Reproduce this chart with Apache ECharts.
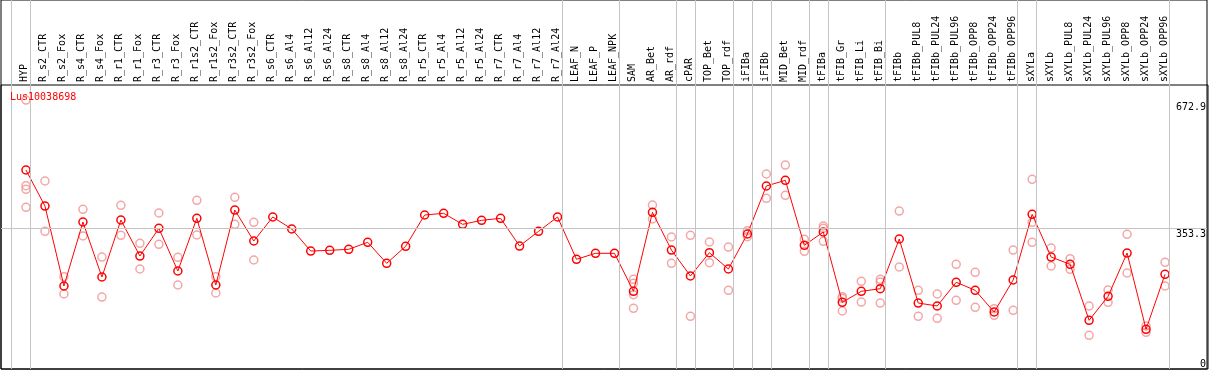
<!DOCTYPE html>
<html>
<head>
<meta charset="utf-8">
<script src="https://cdn.jsdelivr.net/npm/echarts@6/dist/echarts.min.js"></script>
<style>
html,body{margin:0;padding:0;background:#fff;}
#chart{width:1209px;height:370px;}
</style>
</head>
<body>
<div id="chart"></div>
<script>
const geneId = 'Lus10038698';

const categories = [
  'HYP','R_s2_CTR','R_s2_Fox','R_s4_CTR','R_s4_Fox','R_r1_CTR','R_r1_Fox','R_r3_CTR','R_r3_Fox',
  'R_r1s2_CTR','R_r1s2_Fox','R_r3s2_CTR','R_r3s2_Fox','R_s6_CTR','R_s6_Al4','R_s6_Al12','R_s6_Al24',
  'R_s8_CTR','R_s8_Al4','R_s8_Al12','R_s8_Al24','R_r5_CTR','R_r5_Al4','R_r5_Al12','R_r5_Al24',
  'R_r7_CTR','R_r7_Al4','R_r7_Al12','R_r7_Al24','LEAF_N','LEAF_P','LEAF_NPK','SAM','AR_Bet','AR_rdf',
  'cPAR','TOP_Bet','TOP_rdf','iFIBa','iFIBb','MID_Bet','MID_rdf','tFIBa','tFIB_Gr','tFIB_Li','tFIB_Bi',
  'tFIBb','tFIBb_PUL8','tFIBb_PUL24','tFIBb_PUL96','tFIBb_OPP8','tFIBb_OPP24','tFIBb_OPP96',
  'sXYLa','sXYLb','sXYLb_PUL8','sXYLb_PUL24','sXYLb_PUL96','sXYLb_OPP8','sXYLb_OPP24','sXYLb_OPP96'
];

const meanValues = [
  497.9, 407.8, 207.7, 367.8, 230.2, 372.8, 282.7, 352.0, 245.2,
  377.0, 210.2, 397.8, 320.3, 380.3, 350.3, 295.2, 296.9,
  299.5, 317.0, 264.5, 307.0, 385.3, 389.6, 362.0, 372.0,
  377.0, 307.7, 344.5, 380.3, 274.5, 289.5, 289.5, 194.4, 392.0, 297.7,
  232.7, 291.0, 250.2, 337.8, 457.9, 472.1, 309.5, 342.8, 166.9, 194.4, 200.9,
  325.3, 165.1, 157.6, 216.9, 196.9, 142.6, 222.7,
  387.0, 280.2, 262.0, 121.8, 181.9, 290.2, 99.3, 236.9
];

const replicateValues = [
  [672.9, 458.6, 449.6, 404.6],
  [470.4, 344.5],
  [231.0, 187.7],
  [399.6, 332.8],
  [280.2, 180.1],
  [409.6, 334.5],
  [314.5, 250.2],
  [390.3, 312.0],
  [279.5, 210.2],
  [422.0, 335.3],
  [231.0, 190.2],
  [429.6, 362.0],
  [367.0, 272.7],
  [], [], [], [], [], [], [], [], [], [], [], [], [], [], [], [], [], [], [],
  [224.4, 214.4, 186.0, 151.9],
  [410.3, 375.3],
  [330.3, 264.5],
  [334.5, 131.8],
  [317.8, 266.0],
  [305.2, 196.9],
  [346.0, 331.0],
  [487.9, 427.0],
  [510.4, 434.6],
  [324.5, 294.5],
  [357.8, 352.0, 319.5],
  [180.9, 176.9, 145.1],
  [219.4, 167.6],
  [224.4, 217.7, 165.1],
  [395.3, 255.2],
  [196.9, 131.8],
  [187.7, 126.8],
  [262.0, 171.9],
  [241.9, 154.4],
  [150.9, 134.4],
  [297.7, 146.9],
  [474.6, 367.0, 317.0],
  [302.7, 257.7],
  [276.0, 249.4],
  [157.6, 84.3],
  [197.7, 166.9],
  [337.0, 240.2],
  [107.6, 91.8],
  [267.0, 207.7]
];

// index of the last category in each group (-1 = before the first)
const groupEnds = [-1, 0, 28, 31, 34, 35, 37, 38, 39, 41, 42, 45, 52, 53, 60];
const referenceLine = 353.3;
const yTopLabels = [353.3, 672.9];
const yBottomLabels = [0];

const FONT = 'DejaVu Sans Mono';
const meanData = meanValues.map((v, i) => [i, v]);
const repData = [];
replicateValues.forEach((arr, i) => arr.forEach(v => repData.push([i, v])));

const chart = echarts.init(document.getElementById('chart'), null, {renderer: 'canvas'});
const yMax = 923.3;
const xMin = -25 / 19;
const xMax = xMin + 1207 / 19;

chart.setOption({
  animation: false,
  title: {
    text: geneId, left: 10, top: 92, padding: 0,
    textStyle: {color: '#ff0000', fontSize: 10, fontWeight: 'normal', fontFamily: FONT}
  },
  grid: [
    {left: 1, right: 1, top: 0, bottom: 1, show: true, borderColor: '#000', borderWidth: 1},
    {left: 1, right: 1, top: 85, bottom: 1, show: true, borderColor: '#000', borderWidth: 1},
    {left: 15, width: 1159, top: 85, bottom: 1}
  ],
  xAxis: [
    {type: 'value', gridIndex: 0, min: xMin, max: xMax, show: false},
    {type: 'value', gridIndex: 1, min: 0, max: 1, show: false},
    {type: 'category', gridIndex: 2, position: 'top', data: categories, boundaryGap: true,
     axisLine: {show: false}, axisTick: {show: false}, splitLine: {show: false},
     axisLabel: {interval: 0, rotate: 90, margin: 3, color: '#000', fontSize: 10, fontFamily: FONT}}
  ],
  yAxis: [
    {type: 'value', gridIndex: 0, min: 0, max: yMax, position: 'right',
     axisLine: {show: false}, axisTick: {show: false}, splitLine: {show: false},
     axisLabel: {inside: true, margin: 1, customValues: yTopLabels, verticalAlign: 'top',
                 padding: [2, 0, 0, 0], color: '#000', fontSize: 10, fontFamily: FONT}},
    {type: 'value', gridIndex: 0, min: 0, max: yMax, position: 'right',
     axisLine: {show: false}, axisTick: {show: false}, splitLine: {show: false},
     axisLabel: {inside: true, margin: 1, customValues: yBottomLabels, verticalAlign: 'bottom',
                 color: '#000', fontSize: 10, fontFamily: FONT}},
    {type: 'value', gridIndex: 1, show: false},
    {type: 'value', gridIndex: 2, show: false}
  ],
  series: [
    {
      type: 'scatter', xAxisIndex: 0, yAxisIndex: 0, data: repData,
      symbol: 'circle', symbolSize: 8, silent: true,
      itemStyle: {color: 'rgba(0,0,0,0)', borderColor: '#f09090', borderWidth: 1.5},
      markLine: {
        silent: true, symbol: ['none', 'none'], label: {show: false},
        lineStyle: {color: '#c4c4c4', width: 1, type: 'solid'},
        data: groupEnds.map(g => ({xAxis: g + 0.24})).concat([{yAxis: referenceLine}])
      },
      z: 2
    },
    {
      type: 'line', xAxisIndex: 0, yAxisIndex: 0, data: meanData,
      symbol: 'circle', symbolSize: 8, showAllSymbol: true, silent: true,
      lineStyle: {color: '#ff0000', width: 1},
      itemStyle: {color: 'rgba(0,0,0,0)', borderColor: '#ff0000', borderWidth: 1.5},
      z: 3
    }
  ]
});
</script>
</body>
</html>
